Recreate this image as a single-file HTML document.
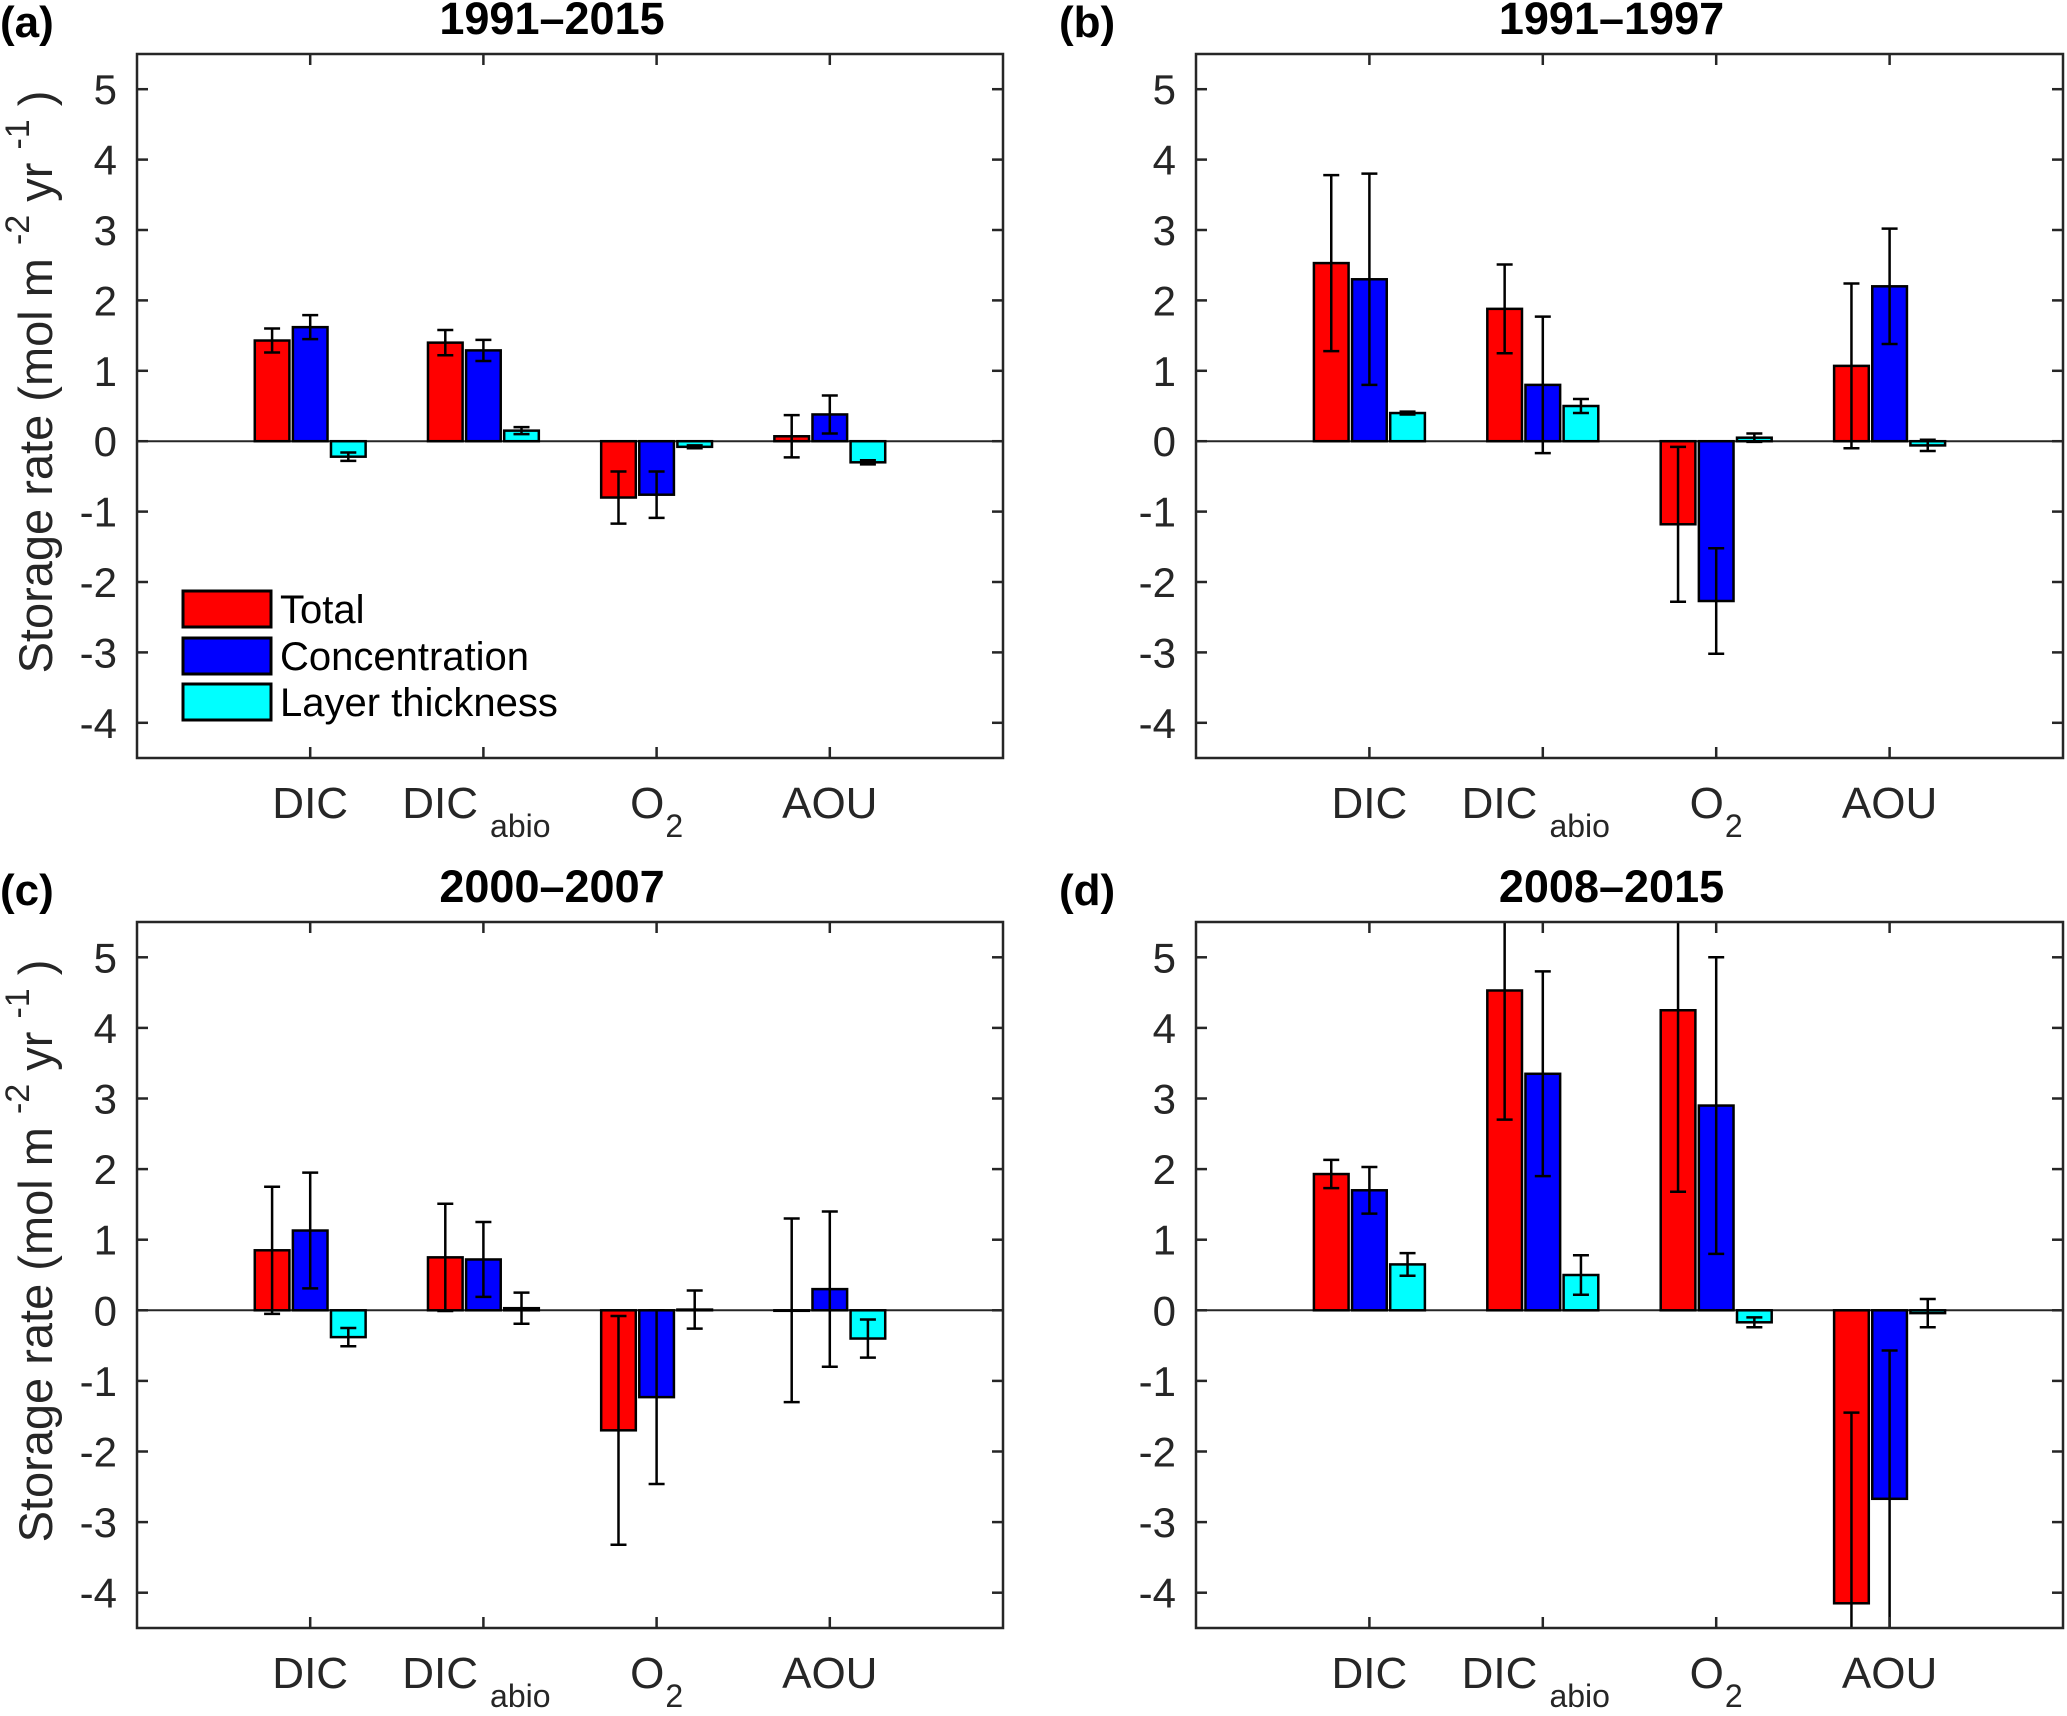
<!DOCTYPE html>
<html><head><meta charset="utf-8">
<style>
html,body{margin:0;padding:0;background:#fff;}
svg{display:block;font-family:"Liberation Sans",Arial,sans-serif;}
</style></head>
<body>
<svg id="fig" width="2067" height="1716" viewBox="0 0 2067 1716" xmlns="http://www.w3.org/2000/svg"></svg>
<script>
// ---- data ----
const categories = ["DIC", "DIC_abio", "O2", "AOU"];
const seriesNames = ["Total", "Concentration", "Layer thickness"];
const yTicks = [-4, -3, -2, -1, 0, 1, 2, 3, 4, 5];
const panelLabels = ["(a)", "(b)", "(c)", "(d)"];
const panelTitles = ["1991\u20132015", "1991\u20131997", "2000\u20132007", "2008\u20132015"];
// values [panel][category] for each series
const totalVals = [[1.43, 1.40, -0.80, 0.07], [2.53, 1.88, -1.18, 1.07], [0.85, 0.75, -1.70, 0.0], [1.93, 4.53, 4.25, -4.15]];
const concVals  = [[1.62, 1.29, -0.76, 0.38], [2.30, 0.80, -2.27, 2.20], [1.13, 0.72, -1.23, 0.30], [1.70, 3.35, 2.90, -2.67]];
const layerVals = [[-0.22, 0.15, -0.08, -0.30], [0.40, 0.50, 0.05, -0.06], [-0.38, 0.03, 0.01, -0.40], [0.65, 0.50, -0.17, -0.04]];
// error half-widths
const totalErr = [[0.17, 0.18, 0.37, 0.30], [1.25, 0.63, 1.10, 1.17], [0.90, 0.76, 1.62, 1.30], [0.20, 1.83, 2.57, 2.70]];
const concErr  = [[0.17, 0.15, 0.33, 0.27], [1.50, 0.97, 0.75, 0.82], [0.82, 0.53, 1.23, 1.10], [0.33, 1.45, 2.10, 2.10]];
const layerErr = [[0.06, 0.05, 0.02, 0.03], [0.02, 0.10, 0.06, 0.08], [0.13, 0.22, 0.27, 0.27], [0.16, 0.28, 0.07, 0.20]];

const seriesVals = [totalVals, concVals, layerVals];
const seriesErr = [totalErr, concErr, layerErr];
const colors = ["#ff0000", "#0000ff", "#00ffff"];
const panels = [
  {x0:137, x1:1003, y0:54, y1:758},
  {x0:1196, x1:2063, y0:54, y1:758},
  {x0:137, x1:1003, y0:922, y1:1628},
  {x0:1196, x1:2063, y0:922, y1:1628}
];
const YMIN = -4.5, YMAX = 5.5, XMIN = 0, XMAX = 5;
const NS = "http://www.w3.org/2000/svg";
const svg = document.getElementById("fig");
function mk(tag, attrs, parent){
  const e = document.createElementNS(NS, tag);
  for (const k in attrs) e.setAttribute(k, attrs[k]);
  (parent || svg).appendChild(e);
  return e;
}

panels.forEach((P, pi) => {
  const g = mk("g", {});
  
  
  const xs = v => P.x0 + (v - XMIN) / (XMAX - XMIN) * (P.x1 - P.x0);
  const ys = v => P.y1 - (v - YMIN) / (YMAX - YMIN) * (P.y1 - P.y0);
  const clip = v => Math.max(YMIN, Math.min(YMAX, v));

  const cp = mk("clipPath", {id: "cp" + pi}, g);
  mk("rect", {x:P.x0, y:P.y0, width:P.x1-P.x0, height:P.y1-P.y0}, cp);

  const zl = mk("line", {x1:P.x0, x2:P.x1, y1:ys(0), y2:ys(0), stroke:"#262626", "stroke-width":2}, g);
  
  

  const bw = 0.2, off = 0.22;
  for (let s = 0; s < 3; s++) {
    for (let c = 0; c < categories.length; c++) {
      const v = seriesVals[s][pi][c];
      const cx = c + 1 + (s - 1) * off;
      const yTop = ys(Math.max(0, clip(v))), yBot = ys(Math.min(0, clip(v)));
      const r = mk("rect", {x:xs(cx - bw/2), y:yTop, width:xs(cx + bw/2) - xs(cx - bw/2), height:Math.max(yBot - yTop, 0.5),
        fill:colors[s], stroke:"#000", "stroke-width":2.5, "clip-path":"url(#cp"+pi+")"}, g);
      
      
    }
  }
  for (let s = 0; s < 3; s++) {
    for (let c = 0; c < categories.length; c++) {
      const v = seriesVals[s][pi][c], e = seriesErr[s][pi][c];
      const cx = xs(c + 1 + (s - 1) * off);
      const lo = v - e, hi = v + e;
      const eg = mk("g", {"clip-path":"url(#cp"+pi+")", stroke:"#000", "stroke-width":2.5}, g);
      
      
      mk("line", {x1:cx, x2:cx, y1:ys(clip(lo)), y2:ys(clip(hi))}, eg);
      if (lo >= YMIN) mk("line", {x1:cx-8, x2:cx+8, y1:ys(lo), y2:ys(lo)}, eg);
      if (hi <= YMAX) mk("line", {x1:cx-8, x2:cx+8, y1:ys(hi), y2:ys(hi)}, eg);
    }
  }

  const box = mk("rect", {x:P.x0, y:P.y0, width:P.x1-P.x0, height:P.y1-P.y0, fill:"none", stroke:"#262626", "stroke-width":2.5}, g);
  
  

  yTicks.forEach(t => {
    const y = ys(t);
    mk("line", {x1:P.x0, x2:P.x0+11, y1:y, y2:y, stroke:"#262626", "stroke-width":2.5}, g);
    mk("line", {x1:P.x1, x2:P.x1-11, y1:y, y2:y, stroke:"#262626", "stroke-width":2.5}, g);
    const tl = mk("text", {x:P.x0-20, y:y+15, "text-anchor":"end", "font-size":42, fill:"#262626"}, g);
    tl.textContent = String(t);
    
    
  });
  categories.forEach((c, i) => {
    const x = xs(i + 1);
    mk("line", {x1:x, x2:x, y1:P.y1, y2:P.y1-11, stroke:"#262626", "stroke-width":2.5}, g);
    mk("line", {x1:x, x2:x, y1:P.y0, y2:P.y0+11, stroke:"#262626", "stroke-width":2.5}, g);
    const t = mk("text", {x:x, y:P.y1+60, "text-anchor":"middle", "font-size":44, fill:"#262626"}, g);
    
    
    if (c === "DIC_abio") {
      t.setAttribute("x", x - 7);
      const a = mk("tspan", {}, t); a.textContent = "DIC";
      const b = mk("tspan", {"font-size":32, dy:19, dx:12}, t); b.textContent = "abio";
    } else if (c === "O2") {
      const a = mk("tspan", {}, t); a.textContent = "O";
      const b = mk("tspan", {"font-size":32, dy:19, dx:1}, t); b.textContent = "2";
    } else t.textContent = c;
  });

  const ti = mk("text", {x:(P.x0+P.x1)/2 - 18, y:P.y0 - 20, "text-anchor":"middle", "font-size":45, "font-weight":"bold", fill:"#000"}, g);
  ti.textContent = panelTitles[pi];
  
  
  const pl = mk("text", {x:P.x0 - 137, y:P.y0 - 17, "font-size":44, "font-weight":"bold", fill:"#000"}, g);
  pl.textContent = panelLabels[pi];
  
  

  if (pi % 2 === 0) {
    const cy = (P.y0 + P.y1) / 2 - 24;
    const yl = mk("text", {x:0, y:0, transform:"translate(52," + cy + ") rotate(-90)", "text-anchor":"middle", "font-size":47, fill:"#262626"}, g);
    
    
    const p1 = mk("tspan", {}, yl); p1.textContent = "Storage rate (mol m ";
    const p2 = mk("tspan", {"font-size":34, dy:-23}, yl); p2.textContent = "-2";
    const p3 = mk("tspan", {dy:23}, yl); p3.textContent = " yr ";
    const p4 = mk("tspan", {"font-size":34, dy:-23}, yl); p4.textContent = "-1";
    const p5 = mk("tspan", {dy:23}, yl); p5.textContent = " )";
  }
});

const lg = mk("g", {});


const legendRows = [591, 638, 684];
seriesNames.forEach((n, i) => {
  const r = mk("rect", {x:183, y:legendRows[i], width:88, height:36, fill:colors[i], stroke:"#000", "stroke-width":3}, lg);
  
  
  const t = mk("text", {x:280, y:legendRows[i] + 32, "font-size":40, fill:"#000"}, lg);
  t.textContent = n;
  
  
});
</script>
</body></html>
